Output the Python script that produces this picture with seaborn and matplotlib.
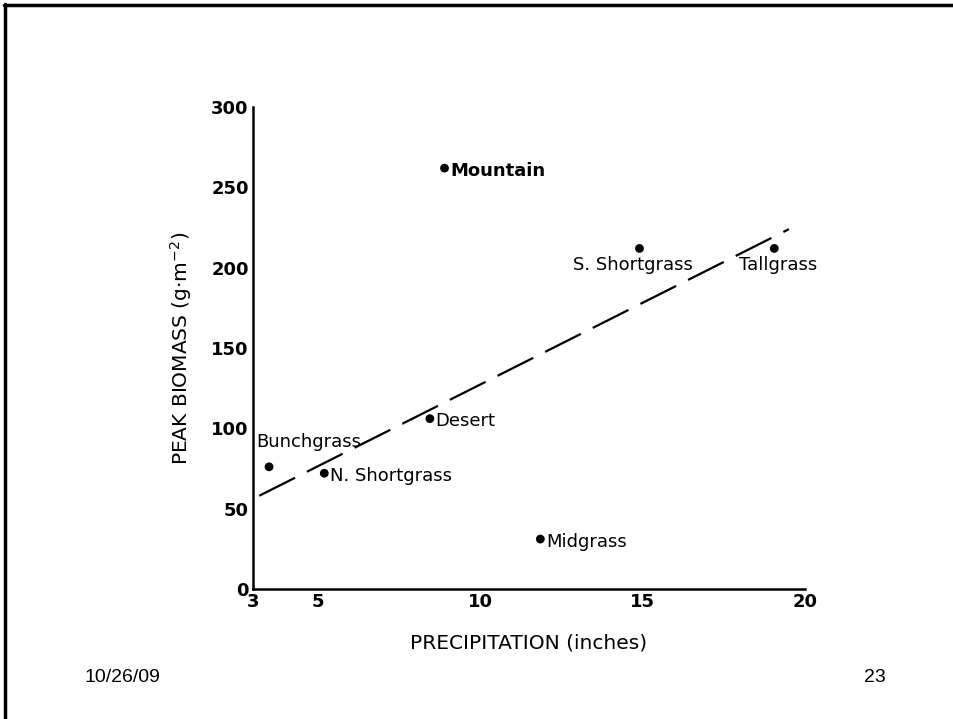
import matplotlib
matplotlib.use("Agg")
import matplotlib.pyplot as plt
import seaborn as sns
import pandas as pd

# grassland sites: precipitation (inches) vs peak biomass (g m-2)
sites = ["Bunchgrass", "N. Shortgrass", "Desert", "Mountain",
         "S. Shortgrass", "Tallgrass", "Midgrass"]
precip = [3.5, 5.2, 8.45, 8.9, 14.9, 19.05, 11.85]
biomass = [76, 72, 106, 262, 212, 212, 31]

# dashed fit line end points
fit_x = [3.2, 19.5]
fit_y = [58, 224]

x_ticks = [3, 5, 10, 15, 20]
y_ticks = [0, 50, 100, 150, 200, 250, 300]

df = pd.DataFrame({"site": sites, "precip": precip, "biomass": biomass})
fit = pd.DataFrame({"x": fit_x, "y": fit_y})

sns.set_theme(style="white")
plt.rcParams["font.family"] = ["DejaVu Sans"]
plt.rcParams["text.color"] = "black"
plt.rcParams["axes.labelcolor"] = "black"
plt.rcParams["xtick.color"] = "black"
plt.rcParams["ytick.color"] = "black"

fig = plt.figure(figsize=(9.54, 7.19), dpi=100)
ax = fig.add_axes([0.265, 0.181, 0.579, 0.670])

sns.lineplot(data=fit, x="x", y="y", ax=ax, color="black", lw=1.6,
             dashes=False, linestyle=(0, (18, 6)))
sns.scatterplot(data=df, x="precip", y="biomass", ax=ax, color="black",
                s=40, edgecolor="none", zorder=3)

# label offsets (points) and alignment per site
offsets = {
    "Bunchgrass": (-9, 18, "left"),
    "N. Shortgrass": (4, -2, "left"),
    "Desert": (4, -2, "left"),
    "Mountain": (4, -2, "left"),
    "S. Shortgrass": (-5, -12, "center"),
    "Tallgrass": (3, -12, "center"),
    "Midgrass": (4, -2, "left"),
}
for s, x, y in zip(sites, precip, biomass):
    dx, dy, ha = offsets[s]
    ax.annotate(s, (x, y), xytext=(dx, dy), textcoords="offset points",
                ha=ha, va="center", fontsize=13, color="black",
                fontweight="heavy" if s == "Mountain" else "normal")

ax.set_xlim(3, 20)
ax.set_ylim(0, 300)
ax.set_xticks(x_ticks)
ax.set_yticks(y_ticks)
ax.tick_params(direction="in", length=6, width=1.6, labelsize=13, pad=3,
               colors="black")
for lab in ax.get_xticklabels() + ax.get_yticklabels():
    lab.set_fontweight("bold")
for sp in ["top", "right"]:
    ax.spines[sp].set_visible(False)
for sp in ["left", "bottom"]:
    ax.spines[sp].set_color("black")
    ax.spines[sp].set_linewidth(1.8)

ax.set_xlabel("PRECIPITATION (inches)", fontsize=14.5, labelpad=16)
ax.set_ylabel("PEAK BIOMASS (g·m$^{-2}$)", fontsize=14.5, labelpad=12)

# slide frame and footer
fig.add_artist(plt.Line2D([0.004, 1.0], [0.993, 0.993], color="black", lw=2.5))
fig.add_artist(plt.Line2D([0.005, 0.005], [0.0, 0.994], color="black", lw=2.5))
fig.text(0.089, 0.058, "10/26/09", fontsize=14, family="Liberation Sans",
         va="center", ha="left", color="black")
fig.text(0.906, 0.058, "23", fontsize=14, family="Liberation Sans",
         va="center", ha="left", color="black")

fig.savefig("out.png", dpi=100)
